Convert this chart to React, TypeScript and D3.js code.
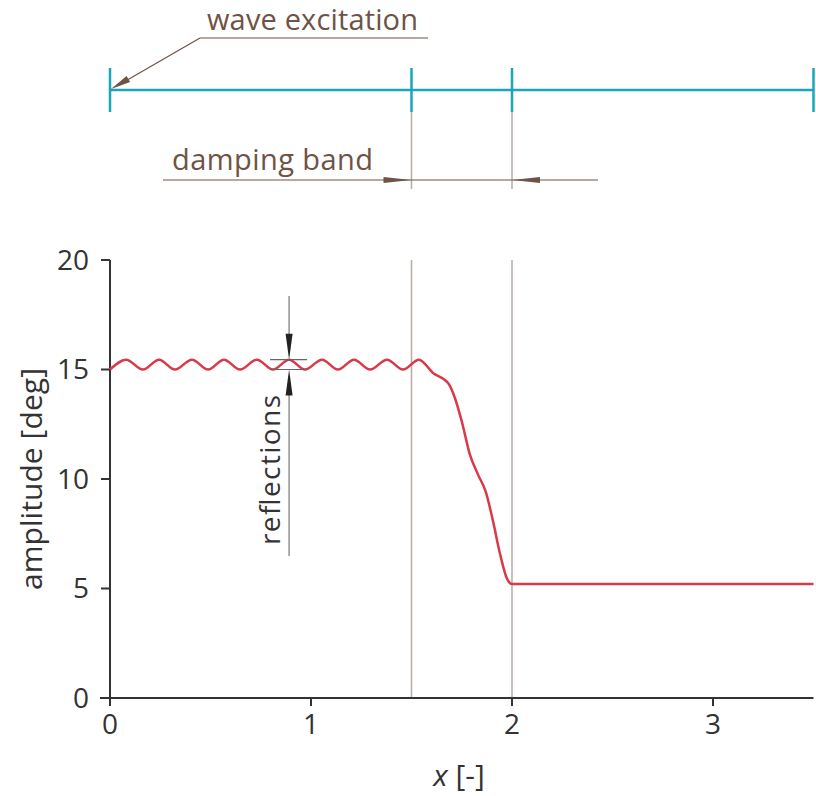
import * as d3 from "d3";

const waveX = [0, 0.08, 0.164, 0.244, 0.323, 0.408, 0.488, 0.567, 0.647, 0.731, 0.811, 0.891, 0.97, 1.055, 1.134, 1.214, 1.294, 1.378, 1.458, 1.537];
const waveY = [15.0, 15.45, 15.0, 15.45, 15.0, 15.45, 15.0, 15.45, 15.0, 15.45, 15.0, 15.45, 15.0, 15.45, 15.0, 15.45, 15.0, 15.45, 15.0, 15.45];
const dropX = [1.607, 1.682, 1.716, 1.751, 1.791, 1.831, 1.87, 1.905, 1.94, 1.975, 2.0, 3.5];
const dropY = [14.84, 14.38, 13.7, 12.6, 11.1, 10.2, 9.4, 8.1, 6.6, 5.45, 5.2, 5.2];

const xTicks = [0, 1, 2, 3];
const yTicks = [0, 5, 10, 15, 20];
const bandEdges = [1.5, 2];
const rulerTicks = [0, 1.5, 2, 3.5];

const W = 816, H = 796;
const font = "'Open Sans', 'Noto Sans', sans-serif";
const brown = "#6e5346";
const teal = "#1ba6b8";
const vline = "#b9aaa3";
const axisCol = "#333";

// arrowhead triangle with tip at (tx,ty), coming from (fx,fy)
function arrowHead(fx: number, fy: number, tx: number, ty: number, len: number, half: number) {
  const a = Math.atan2(ty - fy, tx - fx);
  const bx = tx - len * Math.cos(a), by = ty - len * Math.sin(a);
  const nx = -Math.sin(a) * half, ny = Math.cos(a) * half;
  return `M${tx},${ty}L${bx + nx},${by + ny}L${bx - nx},${by - ny}Z`;
}

export default function App() {
  const margin = { top: 260, left: 110 };
  const x = d3.scaleLinear().domain([0, 3.5]).range([margin.left, 813.5]);
  const y = d3.scaleLinear().domain([0, 20]).range([698, margin.top]);

  const pts: [number, number][] = [
    ...waveX.map((v, i) => [v, waveY[i]] as [number, number]),
    ...dropX.map((v, i) => [v, dropY[i]] as [number, number]),
  ];
  const line = d3.line<[number, number]>()
    .x(d => x(d[0]))
    .y(d => y(d[1]))
    .curve(d3.curveMonotoneX);

  const y0 = y(0);
  const rulerY = 90;
  const bandY = 180;

  // reflections annotation
  const rx = x(0.891);
  const peakY = y(15.45), troughY = y(15.0);

  return (
    <svg width={W} height={H} style={{ position: "absolute", left: 0, top: 0, background: "#fff" }} fontFamily={font}>
      {/* ruler at top */}
      <line x1={x(0)} x2={x(3.5)} y1={rulerY} y2={rulerY} stroke={teal} strokeWidth={2.5} />
      {rulerTicks.map(t => (
        <line key={t} x1={x(t)} x2={x(t)} y1={rulerY - 22} y2={rulerY + 22} stroke={teal} strokeWidth={2.5} />
      ))}
      {bandEdges.map(t => (
        <line key={"u" + t} x1={x(t)} x2={x(t)} y1={rulerY + 22} y2={bandY + 9} stroke={vline} strokeWidth={1.5} />
      ))}

      {/* wave excitation */}
      <text x={207} y={30} fontSize={29} fill={brown} textLength={211}>wave excitation</text>
      <line x1={200} x2={428} y1={38} y2={38} stroke={brown} strokeWidth={1.2} />
      <line x1={200} y1={38} x2={x(0) + 6} y2={rulerY - 3.5} stroke={brown} strokeWidth={1.2} />
      <path d={arrowHead(200, 38, x(0) + 1, rulerY - 1, 20, 3.5)} fill={brown} />

      {/* damping band */}
      <text x={172} y={170} fontSize={29} fill={brown} textLength={201}>damping band</text>
      <line x1={163} x2={598} y1={bandY} y2={bandY} stroke={brown} strokeWidth={1.2} />
      <path d={arrowHead(x(1.5) - 40, bandY, x(1.5), bandY, 28, 3)} fill={brown} />
      <path d={arrowHead(x(2) + 40, bandY, x(2), bandY, 28, 3)} fill={brown} />

      {/* damping band edges in the chart */}
      {bandEdges.map(t => (
        <line key={"c" + t} x1={x(t)} x2={x(t)} y1={y(20)} y2={y0} stroke={vline} strokeWidth={1.5} />
      ))}

      {/* axes */}
      <line x1={x(0)} x2={x(0)} y1={y(20)} y2={y0 + 6} stroke={axisCol} strokeWidth={2} />
      <line x1={x(0) - 10} x2={x(3.5)} y1={y0} y2={y0} stroke={axisCol} strokeWidth={2} />
      {yTicks.map(t => (
        <g key={"y" + t}>
          <line x1={x(0) - 9} x2={x(0)} y1={y(t)} y2={y(t)} stroke={axisCol} strokeWidth={2} />
          <text x={x(0) - 21} y={y(t)} dy="0.35em" textAnchor="end" fontSize={28} fill={axisCol}>{t}</text>
        </g>
      ))}
      {xTicks.map(t => (
        <g key={"x" + t}>
          <line x1={x(t)} x2={x(t)} y1={y0} y2={y0 + 8} stroke={axisCol} strokeWidth={2} />
          <text x={x(t)} y={y0 + 36} textAnchor="middle" fontSize={28} fill={axisCol}>{t}</text>
        </g>
      ))}
      <text x={459} y={786} textAnchor="middle" fontSize={30} fill={axisCol}>
        <tspan fontStyle="italic">x</tspan> [-]
      </text>
      <text transform={`translate(42,${y(10)}) rotate(-90)`} textAnchor="middle" fontSize={30} fill={axisCol} textLength={222}>
        amplitude [deg]
      </text>

      {/* amplitude curve */}
      <path d={line(pts) ?? ""} fill="none" stroke="#d93a4a" strokeWidth={2.5} />

      {/* reflections */}
      <line x1={rx - 19} x2={rx + 18} y1={peakY} y2={peakY} stroke="#666" strokeWidth={1.2} />
      <line x1={rx - 19} x2={rx + 18} y1={troughY} y2={troughY} stroke="#666" strokeWidth={1.2} />
      <line x1={rx} x2={rx} y1={296} y2={peakY - 10} stroke="#777" strokeWidth={1.2} />
      <path d={arrowHead(rx, 296, rx, peakY, 26, 3.5)} fill="#222" />
      <line x1={rx} x2={rx} y1={556} y2={troughY + 10} stroke="#777" strokeWidth={1.2} />
      <path d={arrowHead(rx, 556, rx, troughY, 26, 3.5)} fill="#222" />
      <text transform={`translate(280,470) rotate(-90)`} textAnchor="middle" fontSize={28} fill={axisCol} textLength={150}>
        reflections
      </text>
    </svg>
  );
}
